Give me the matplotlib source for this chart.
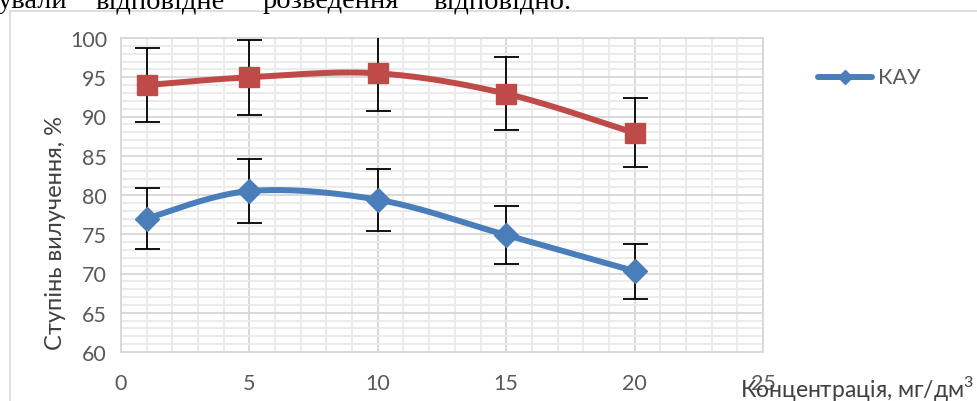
import numpy as np
import matplotlib
matplotlib.use("Agg")
import matplotlib.pyplot as plt
from matplotlib.lines import Line2D

plt.rcParams['font.family'] = ['Lato', 'DejaVu Sans']
plt.rcParams['mathtext.fontset'] = 'custom'
plt.rcParams['mathtext.rm'] = 'Lato'

# Data
concentration = [1, 5, 10, 15, 20]
kau = [77.0, 80.5, 79.4, 74.9, 70.3]
second_series = [94.0, 95.0, 95.5, 92.9, 87.9]
err_frac = 0.05  # 5 % error bars
x_ticks = [0, 5, 10, 15, 20, 25]
y_ticks = [60, 65, 70, 75, 80, 85, 90, 95, 100]

BLUE = '#4A7EBB'
RED = '#BE4B48'
GRAY_TXT = '#595959'


def smooth(x, y, n=40):
    """Catmull-Rom spline through the points (like a spreadsheet smoothed line)."""
    x = np.asarray(x, float)
    y = np.asarray(y, float)
    px = np.concatenate([[x[0]], x, [x[-1]]])
    py = np.concatenate([[y[0]], y, [y[-1]]])
    xs, ys = [], []
    for i in range(1, len(px) - 2):
        p0, p1, p2, p3 = (np.array([px[j], py[j]]) for j in (i - 1, i, i + 1, i + 2))
        c1 = p1 + (p2 - p0) / 6
        c2 = p2 - (p3 - p1) / 6
        t = np.linspace(0, 1, n)[:, None]
        b = ((1 - t) ** 3) * p1 + 3 * ((1 - t) ** 2) * t * c1 + 3 * (1 - t) * t ** 2 * c2 + t ** 3 * p2
        xs.append(b[:, 0])
        ys.append(b[:, 1])
    return np.concatenate(xs), np.concatenate(ys)


W, H = 977, 402
fig = plt.figure(figsize=(W / 100, H / 100), dpi=100)

# chart frame lines
fig.add_artist(Line2D([10 / W, 1], [1 - 11.5 / H, 1 - 11.5 / H], color='#d9d9d9', lw=1.2))
fig.add_artist(Line2D([10 / W, 10 / W], [0, 1 - 11.5 / H], color='#d9d9d9', lw=1.2))

# fragment of the document text above the chart
words = [("ували", -2), ("відповідне", 95), ("розведення", 263), ("відповідно.", 433)]
for w, xp in words:
    fig.text(xp / W, 1 - 8 / H, w, fontsize=20.5, family='Liberation Serif',
             va='baseline', ha='left', color='black')

left, right, top, bottom = 121, 763, 39, 353
ax = fig.add_axes([left / W, 1 - bottom / H, (right - left) / W, (bottom - top) / H])
ax.set_xlim(0, 25)
ax.set_ylim(60, 100)
ax.set_xticks(x_ticks)
ax.set_yticks(y_ticks)
ax.set_xticks(np.arange(0, 26, 1), minor=True)
ax.set_yticks(np.arange(60, 101, 1), minor=True)
ax.grid(which='minor', color='#ebebeb', lw=1.4, zorder=0)
ax.grid(which='major', color='#d9d9d9', lw=1.4, zorder=0.5)
ax.tick_params(which='both', length=0)
ax.tick_params(axis='y', labelsize=15.5, labelcolor=GRAY_TXT, pad=10)
ax.tick_params(axis='x', labelsize=15.5, labelcolor=GRAY_TXT, pad=15)
for s in ax.spines.values():
    s.set_color('#d9d9d9')
    s.set_linewidth(1.4)

# smoothed lines
sx, sy = smooth(concentration, kau)
ax.plot(sx, sy, color=BLUE, lw=4.3, zorder=3, solid_capstyle='round')
sx, sy = smooth(concentration, second_series)
ax.plot(sx, sy, color=RED, lw=4.3, zorder=3, solid_capstyle='round')

# error bars
ax.errorbar(concentration, kau, yerr=[v * err_frac for v in kau], fmt='none',
            ecolor='black', elinewidth=1.3, capsize=9, capthick=1.3, zorder=4)
ax.errorbar(concentration, second_series, yerr=[v * err_frac for v in second_series], fmt='none',
            ecolor='black', elinewidth=1.3, capsize=9, capthick=1.3, zorder=4)

# markers
ax.plot(concentration, kau, ls='none', marker='D', ms=12.5, color=BLUE, zorder=5)
ax.plot(concentration, second_series, ls='none', marker='s', ms=14.5, color=RED, zorder=5)

fig.text(55 / W, 1 - 233 / H, "Ступінь вилучення, %", fontsize=17, color='#404040',
         rotation=90, va='center', ha='center')
fig.text(974 / W, 1 - 397 / H, "Концентрація, мг/дм$^3$", fontsize=16.5, color='#404040',
         va='baseline', ha='right')

# legend
lx0, lx1, ly = 818, 872, 78
fig.add_artist(Line2D([lx0 / W, lx1 / W], [1 - ly / H, 1 - ly / H], color=BLUE, lw=4.3,
                      solid_capstyle='round'))
fig.add_artist(Line2D([(lx0 + lx1) / 2 / W], [1 - ly / H], marker='D', ms=7, color=BLUE))
fig.text(878 / W, 1 - ly / H, "КАУ", fontsize=15.5, color=GRAY_TXT, va='center', ha='left')

fig.savefig("out.png", dpi=100)
